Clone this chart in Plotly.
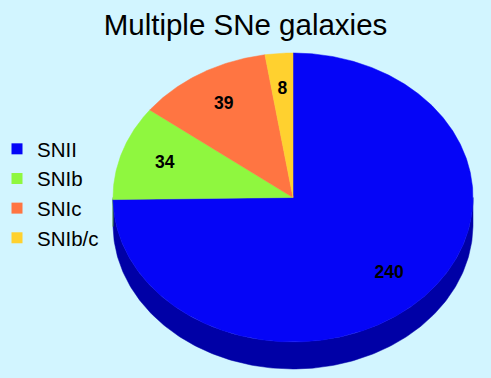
import numpy as np
import plotly.graph_objects as go

# ---- data ----
labels = ["SNII", "SNIb", "SNIc", "SNIb/c"]
values = [240, 34, 39, 8]
top_colors = ["#0505f7", "#8ff73f", "#ff7542", "#ffd12f"]
side_colors = ["#0000a6", "#5aa823", "#b54f26", "#b8921c"]
title_text = "Multiple SNe galaxies"

# ---- geometry (layout) ----
W, H = 491, 378
cx, cy, rx, ry, depth = 293.0, 197.5, 180.0, 144.5, 27.0
label_frac = 0.75
bg = "#d2f5ff"


def ellipse_pts(thetas, dy=0.0):
    t = np.radians(thetas)
    return cx + rx * np.sin(t), cy - ry * np.cos(t) + dy


total = float(sum(values))
bounds = np.concatenate([[0.0], np.cumsum(values) / total * 360.0])

fig = go.Figure()

# side walls (visible front half: 90..270 deg clockwise from top)
for i, v in enumerate(values):
    a, b = max(bounds[i], 90.0), min(bounds[i + 1], 270.0)
    if a >= b:
        continue
    th = np.linspace(a, b, 200)
    xt, yt = ellipse_pts(th)
    xb, yb = ellipse_pts(th[::-1], depth)
    fig.add_trace(go.Scatter(
        x=np.concatenate([xt, xb, xt[:1]]), y=np.concatenate([yt, yb, yt[:1]]),
        mode="lines", fill="toself", fillcolor=side_colors[i],
        line=dict(color=side_colors[i], width=0.5), hoverinfo="skip", showlegend=False))

# top faces
for i, v in enumerate(values):
    n = max(int((bounds[i + 1] - bounds[i]) * 2), 10)
    th = np.linspace(bounds[i], bounds[i + 1], n)
    xs, ys = ellipse_pts(th)
    fig.add_trace(go.Scatter(
        x=np.concatenate([[cx], xs, [cx]]), y=np.concatenate([[cy], ys, [cy]]),
        mode="lines", fill="toself", fillcolor=top_colors[i],
        line=dict(color=top_colors[i], width=0.5),
        name=labels[i], text=f"{labels[i]}: {v}", hoverinfo="text", showlegend=False))

# value labels
mids = (bounds[:-1] + bounds[1:]) / 2.0
t = np.radians(mids)
fig.add_trace(go.Scatter(
    x=cx + rx * label_frac * np.sin(t), y=cy - ry * label_frac * np.cos(t),
    mode="text", text=[str(v) for v in values],
    textfont=dict(family="Liberation Sans", size=17.5, color="black", weight="bold"),
    hoverinfo="skip", showlegend=False))

# legend entries
for i, lab in enumerate(labels):
    fig.add_trace(go.Scatter(
        x=[None], y=[None], mode="markers", name=lab, legendgroup=lab,
        marker=dict(symbol="square", size=11, color=top_colors[i]), showlegend=True))

fig.update_layout(
    width=W, height=H, autosize=False,
    margin=dict(l=0, r=0, t=0, b=0, autoexpand=False),
    paper_bgcolor=bg, plot_bgcolor=bg,
    title=dict(text=title_text, x=0.5, xanchor="center", y=1 - 25 / H, yanchor="middle",
               font=dict(family="Liberation Sans", size=29.5, color="black")),
    xaxis=dict(range=[0, W], visible=False, fixedrange=True),
    yaxis=dict(range=[H, 0], visible=False, fixedrange=True),
    legend=dict(x=-3 / W, xanchor="left", y=1 - 129 / H, yanchor="top",
                font=dict(family="Liberation Sans", size=20.5, color="black"),
                bgcolor="rgba(0,0,0,0)", traceorder="grouped", tracegroupgap=0),
    showlegend=True,
)

fig.write_html("out.html", config={"displayModeBar": False},
               post_script="document.body.style.margin='0';document.body.style.padding='0';")
